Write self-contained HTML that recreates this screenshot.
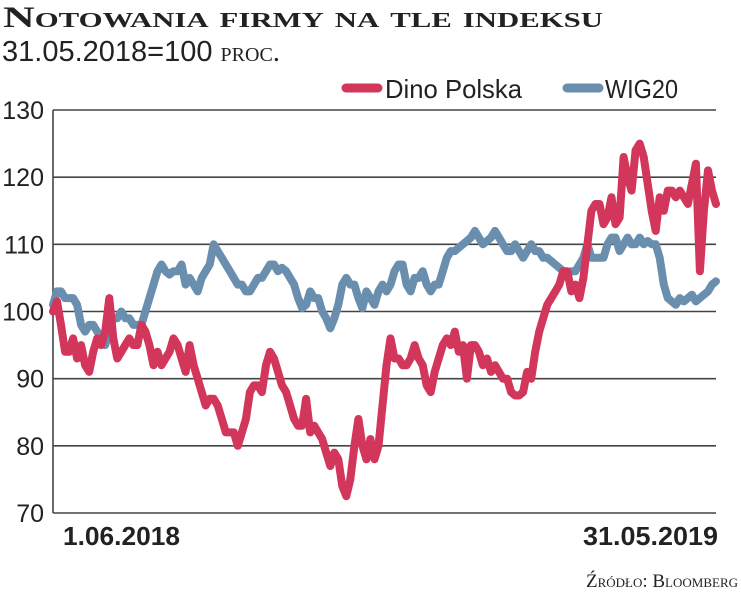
<!DOCTYPE html>
<html><head><meta charset="utf-8"><style>
body{margin:0;background:#fff;width:741px;height:593px;overflow:hidden}
svg{display:block}
</style></head><body>
<svg width="741" height="593">
<text x="3" y="27" font-family="Liberation Serif, serif" font-weight="bold" font-size="30" fill="#222" style="font-variant:small-caps" textLength="600" lengthAdjust="spacingAndGlyphs">Notowania firmy na tle indeksu</text>
<text x="2" y="61" font-family="Liberation Sans, sans-serif" font-size="29" fill="#222">31.05.2018=100 <tspan style="font-variant:small-caps" font-family="Liberation Serif, serif">proc.</tspan></text>
<line x1="346" y1="88" x2="378" y2="88" stroke="#d2365a" stroke-width="9" stroke-linecap="round"/>
<text x="385" y="98" font-family="Liberation Sans, sans-serif" font-size="26" fill="#222" textLength="137" lengthAdjust="spacingAndGlyphs">Dino Polska</text>
<line x1="567" y1="88" x2="599" y2="88" stroke="#6a8fae" stroke-width="9" stroke-linecap="round"/>
<text x="605" y="98" font-family="Liberation Sans, sans-serif" font-size="26" fill="#222" textLength="73" lengthAdjust="spacingAndGlyphs">WIG20</text>
<g id="grid"></g>
<g id="series"></g>
<text x="63" y="545" font-family="Liberation Sans, sans-serif" font-weight="bold" font-size="26" fill="#222" textLength="117" lengthAdjust="spacingAndGlyphs">1.06.2018</text>
<text x="583" y="545" font-family="Liberation Sans, sans-serif" font-weight="bold" font-size="26" fill="#222" textLength="135" lengthAdjust="spacingAndGlyphs">31.05.2019</text>
<text x="738" y="587" text-anchor="end" font-family="Liberation Serif, serif" font-size="19" fill="#222" style="font-variant:small-caps">Źródło: Bloomberg</text>
</svg>
<script>
const yTicks=[70,80,90,100,110,120,130];
const dino=[100,101.5,98,94,94,96,93,95,92,91,94,96,95,97,102,96,93,94,95,96,95,95,98,97,95,92,94,92,93,94,96,95,93,91,95,92,90,88,86,87,87,86,84,82,82,82,80,82,84,88,89,89,88,92,94,93,91,89,88,86,84,83,83,87,82,83,82,81,79,77,79,78,74,72.5,75,80,84,80,78,81,78,80,86,92,96,93,93,92,92,93,95,93,92,89,88,91,93,95,96,95,97,94,95,90,95,95,94,92,93,91,92,91,90,90,88,87.5,87.5,88,91,90,94,97,99,101,102,103,104,106,106,103,104,102,105,110,115,116,116,113,114,117,113,114,123,120,118,124,125,123,119,115,112,117,115,118,118,117,118,117,116,119,122,106,115,121,118,116];
const wig20=[101,103,103,102,102,102,101,98,97,98,98,97,96,95,97,99,99,100,99,99,98,98,98,100,102,104,106,107,106,105.5,106,106,107,104,105,104,103,105,106,107,110,109,108,107,106,105,104,104,103,103,104,105,105,106,107,107,106,106.5,106,105,104,102,100.5,101,103,102,102,100,99,97.5,99,101,104,105,104,104,102,100.5,103,102,101,103,104,103,104,106,107,107,104,103,105,105,106,104,103,104,104,106,108,109,109,109.5,110,110.5,111,112,111,110,110.5,111,112,111,110,109,109,110,109,108,109,110,109,109,108,108,107.5,107,106.5,106,105.5,106,106,107,108,110,108,108,108,108,110,111,111,109,110,111,110,110,111,110,110.5,110,110,108,104,102,101.5,101,102,101.5,102,102.5,101.5,102,102.5,103,104,104.5];
const X0=53,X1=716,Y130=110,Y70=513;
const y=v=>Y70-(v-70)*(Y70-Y130)/60;
const NS='http://www.w3.org/2000/svg';
const grid=document.getElementById('grid'),ser=document.getElementById('series');
yTicks.forEach(t=>{
  const l=document.createElementNS(NS,'line');
  l.setAttribute('x1',X0);l.setAttribute('x2',X1);l.setAttribute('y1',y(t));l.setAttribute('y2',y(t));
  l.setAttribute('stroke','#444');l.setAttribute('stroke-width','1.6');
  
  
  grid.appendChild(l);
  const tx=document.createElementNS(NS,'text');
  tx.setAttribute('x',44);tx.setAttribute('y',y(t)+9);tx.setAttribute('text-anchor','end');
  tx.setAttribute('font-family','Liberation Sans, sans-serif');tx.setAttribute('font-size','25');tx.setAttribute('fill','#222');
  tx.textContent=t;
  
  
  grid.appendChild(tx);
});
const ax=document.createElementNS(NS,'line');
ax.setAttribute('x1',X0);ax.setAttribute('x2',X0);ax.setAttribute('y1',Y130);ax.setAttribute('y2',Y70);
ax.setAttribute('stroke','#444');ax.setAttribute('stroke-width','1.6');


grid.appendChild(ax);
function draw(arr,color,name){
  const n=arr.length;
  const pts=arr.map((v,i)=>(X0+i*(X1-X0)/(n-1)).toFixed(1)+','+y(v).toFixed(1)).join(' ');
  const p=document.createElementNS(NS,'polyline');
  p.setAttribute('points',pts);p.setAttribute('fill','none');p.setAttribute('stroke',color);
  p.setAttribute('stroke-width','8');p.setAttribute('stroke-linejoin','round');p.setAttribute('stroke-linecap','round');
  
  
  ser.appendChild(p);
}
draw(wig20,'#6a8fae','wig20-line');
draw(dino,'#d2365a','dino-polska-line');
</script>
</body></html>
